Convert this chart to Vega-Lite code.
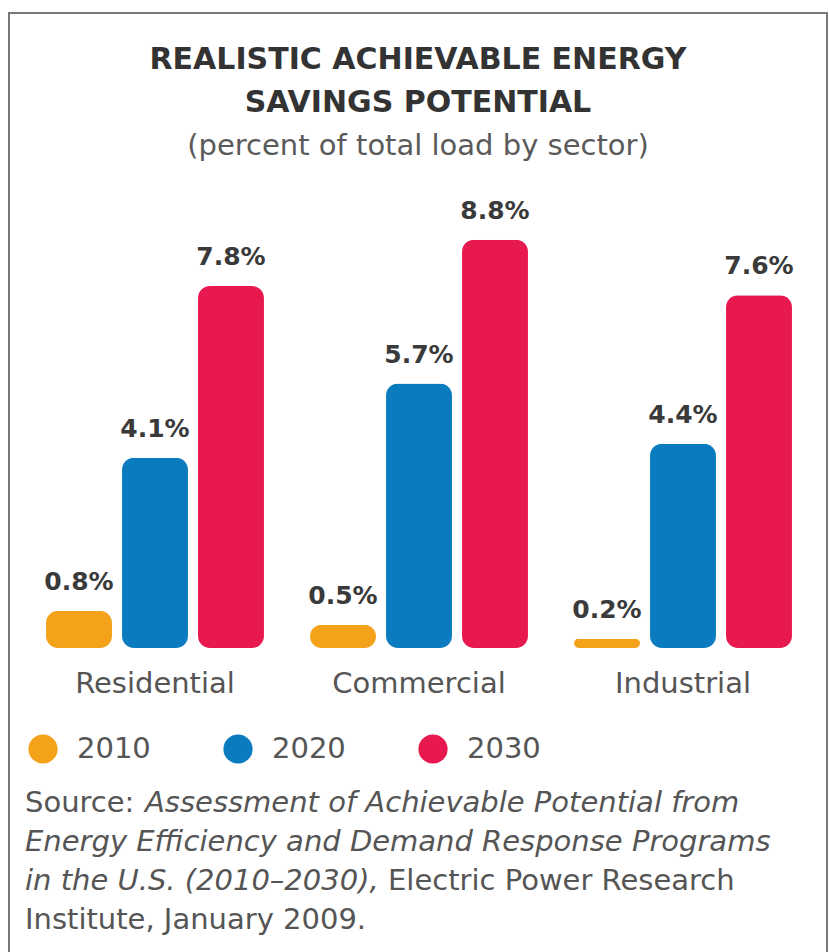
{
  "$schema": "https://vega.github.io/schema/vega-lite/v6.json",
  "width": 818,
  "height": 960,
  "autosize": {"type": "none"},
  "padding": {"left": 9, "top": 13, "right": 2, "bottom": 0},
  "background": "white",
  "config": {
    "view": {"stroke": "#777777", "strokeWidth": 2},
    "font": "DejaVu Sans"
  },
  "title": {
    "text": ["REALISTIC ACHIEVABLE ENERGY", "SAVINGS POTENTIAL"],
    "subtitle": "(percent of total load by sector)",
    "anchor": "middle",
    "frame": "group",
    "orient": "top",
    "offset": -148,
    "font": "DejaVu Sans",
    "fontSize": 30,
    "fontWeight": "bold",
    "color": "#333333",
    "lineHeight": 43,
    "subtitleFont": "DejaVu Sans",
    "subtitleFontSize": 29,
    "subtitleColor": "#5a5a5a",
    "subtitlePadding": 14
  },
  "datasets": {
    "bars": [
      {"sector": "Residential", "year": "2010", "value": 0.008},
      {"sector": "Residential", "year": "2020", "value": 0.041},
      {"sector": "Residential", "year": "2030", "value": 0.078},
      {"sector": "Commercial", "year": "2010", "value": 0.005},
      {"sector": "Commercial", "year": "2020", "value": 0.057},
      {"sector": "Commercial", "year": "2030", "value": 0.088},
      {"sector": "Industrial", "year": "2010", "value": 0.002},
      {"sector": "Industrial", "year": "2020", "value": 0.044},
      {"sector": "Industrial", "year": "2030", "value": 0.076}
    ],
    "notes": [
      {"line": 1, "part": 1, "text": "Source:"},
      {"line": 1, "part": 2, "text": "Assessment of Achievable Potential from"},
      {"line": 2, "part": 1, "text": "Energy Efficiency and Demand Response Programs"},
      {"line": 3, "part": 1, "text": "in the U.S. (2010–2030),"},
      {"line": 3, "part": 2, "text": "Electric Power Research"},
      {"line": 4, "part": 1, "text": "Institute, January 2009."}
    ]
  },
  "layer": [
    {
      "data": {"name": "bars"},
      "encoding": {
        "x": {
          "field": "sector",
          "type": "nominal",
          "sort": ["Residential", "Commercial", "Industrial"],
          "scale": {"range": [14, 806], "paddingInner": 0, "paddingOuter": 0},
          "axis": {
            "title": null,
            "orient": "bottom",
            "offset": -290,
            "domain": false,
            "ticks": false,
            "tickSize": 0,
            "labelPadding": 0,
            "labelBaseline": "middle",
            "labelAngle": 0,
            "labelFont": "DejaVu Sans",
            "labelFontSize": 29,
            "labelColor": "#555555"
          }
        },
        "xOffset": {
          "field": "year",
          "type": "nominal",
          "scale": {"paddingInner": 0.132, "paddingOuter": 0.303}
        },
        "y": {
          "field": "value",
          "type": "quantitative",
          "scale": {"domain": [0, 0.1], "range": [635, 171], "nice": false},
          "axis": null
        }
      },
      "layer": [
        {
          "mark": {"type": "bar", "cornerRadius": 12},
          "encoding": {
            "color": {
              "field": "year",
              "type": "nominal",
              "scale": {"domain": ["2010", "2020", "2030"], "range": ["#F5A21B", "#0A7BBE", "#E8194E"]},
              "legend": {
                "title": null,
                "orient": "none",
                "legendX": 19,
                "legendY": 721,
                "direction": "horizontal",
                "symbolType": "circle",
                "symbolSize": 855,
                "symbolOpacity": 1,
                "symbolStrokeWidth": 0,
                "labelFont": "DejaVu Sans",
                "labelFontSize": 29,
                "labelColor": "#555555",
                "labelOffset": 19,
                "columnPadding": 72,
                "padding": 0
              }
            }
          }
        },
        {
          "mark": {"type": "text", "font": "DejaVu Sans", "fontSize": 25, "fontWeight": "bold", "color": "#3a3a3a", "baseline": "alphabetic", "align": "center", "dy": -21},
          "encoding": {
            "text": {"field": "value", "type": "quantitative", "format": ".1%"}
          }
        }
      ]
    },
    {
      "data": {"name": "notes"},
      "encoding": {
        "x": {"value": 16},
        "y": {
          "field": "line",
          "type": "ordinal",
          "scale": {"type": "point", "range": [790, 907], "padding": 0},
          "axis": null
        },
        "text": {"field": "text", "type": "nominal"}
      },
      "layer": [
        {
          "transform": [{"filter": "datum.part == 1 && (datum.line == 1 || datum.line == 4)"}],
          "mark": {"type": "text", "align": "left", "baseline": "middle", "font": "DejaVu Sans", "fontSize": 29, "color": "#555555"}
        },
        {
          "transform": [{"filter": "datum.part == 1 && (datum.line == 2 || datum.line == 3)"}],
          "mark": {"type": "text", "align": "left", "baseline": "middle", "font": "DejaVu Sans", "fontStyle": "italic", "fontSize": 29, "color": "#555555"}
        },
        {
          "transform": [{"filter": "datum.line == 1 && datum.part == 2"}],
          "mark": {"type": "text", "align": "left", "baseline": "middle", "font": "DejaVu Sans", "fontStyle": "italic", "fontSize": 29, "color": "#555555", "dx": 120}
        },
        {
          "transform": [{"filter": "datum.line == 3 && datum.part == 2"}],
          "mark": {"type": "text", "align": "left", "baseline": "middle", "font": "DejaVu Sans", "fontSize": 29, "color": "#555555", "dx": 363}
        }
      ]
    }
  ],
  "resolve": {"scale": {"y": "independent"}}
}
